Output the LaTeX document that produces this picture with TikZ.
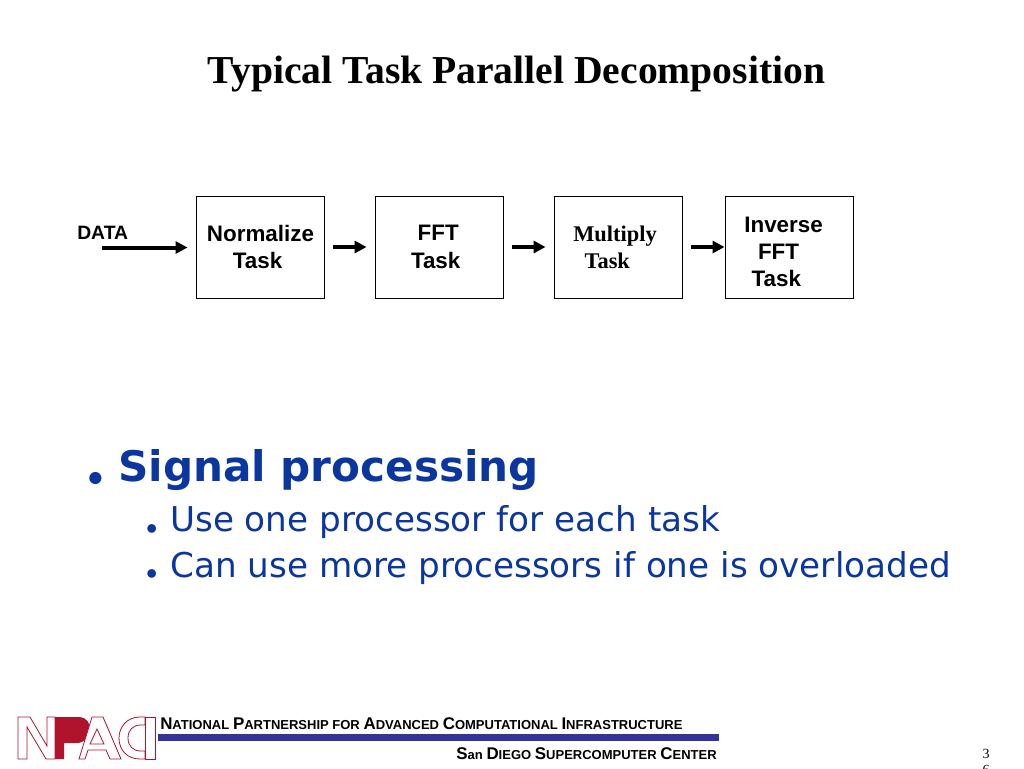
\documentclass[tikz,border=0pt]{standalone}
\usepackage{fontspec}
\setmainfont{Liberation Serif}
\setsansfont{Liberation Sans}
\newfontfamily\verdanafont{DejaVu Sans}
\usetikzlibrary{arrows.meta}
\definecolor{slideblue}{HTML}{0B36A0}
\definecolor{barblue}{HTML}{333399}
\definecolor{logored}{HTML}{B0142C}
\newcommand{\capbig}[1]{{\fontsize{12.7}{14}\selectfont #1}}
\newcommand{\capsmall}[1]{{\fontsize{9.75}{14}\selectfont #1}}
\tikzset{
  taskbox/.style={draw=black, line width=0.7pt, minimum width=96pt, minimum height=76.5pt, inner sep=0pt, text width=96pt, align=left, font=\sffamily\bfseries\fontsize{16.8}{20.5}\selectfont},
  flow/.style={line width=3pt, -{Triangle[length=9pt,width=9pt]}, shorten <=6.75pt, shorten >=6pt},
  every node/.append style={inner sep=0pt},
  logoline/.style={draw=logored, line width=0.6pt, fill=white},
  bigdot/.style={anchor=base, text=slideblue, text height=8pt, text depth=0pt, font=\rmfamily\bfseries\fontsize{56}{58}\selectfont},
  smalldot/.style={anchor=base, text=slideblue, text height=6pt, text depth=0pt, font=\rmfamily\bfseries\fontsize{40}{42}\selectfont}
}
\begin{document}
\begin{tikzpicture}[x=0.75pt,y=-0.75pt]
    \useasboundingbox (0,0) rectangle (1024,768);
    \node (title) [anchor=base, font=\bfseries\fontsize{29.7}{34}\selectfont] at (516.5,83) {Typical Task Parallel Decomposition};
    % task boxes
    \node (normalize) [taskbox] at (260,247) {\hspace*{8.2pt}Normalize\\\hspace*{27.7pt}Task};
    \node (fft) [taskbox] at (439,247) {\hspace*{32pt}FFT\\\hspace*{27pt}Task};
    \node (multiply) [taskbox, font=\rmfamily\bfseries\fontsize{16.8}{20.5}\selectfont] at (618,247) {\hspace*{14.5pt}Multiply\\\hspace*{23pt}Task};
    \node (inverse) [taskbox] at (789,247) {\rule{0pt}{19pt}\hspace*{14.5pt}Inverse\\\hspace*{24.75pt}FFT\\\hspace*{20pt}Task};
    \node (data) [anchor=base west, font=\sffamily\bfseries\fontsize{14.5}{16}\selectfont] at (77,239) {DATA};
    \coordinate (datastart) at (93,247.5);
    \draw [flow] (datastart) -- (normalize.west |- datastart);
    \draw [flow] (normalize.east) -- (fft.west);
    \draw [flow] (fft.east) -- (multiply.west);
    \draw [flow, shorten >=0pt] (multiply.east) -- (inverse.west);
    % bullets
    \node (dotA) [bigdot] at (96,483) {.};
    \node (signal) [anchor=base west, text=slideblue, font=\verdanafont\bfseries\fontsize{31.6}{36}\selectfont] at (118,481) {Signal processing};
    \node (dotB) [smalldot] at (152,532.5) {.};
    \node (useone) [anchor=base west, text=slideblue, font=\verdanafont\fontsize{25.65}{30}\selectfont] at (170,531) {Use one processor for each task};
    \node (dotC) [smalldot] at (152,577.5) {.};
    \node (canuse) [anchor=base west, text=slideblue, font=\verdanafont\fontsize{25.65}{30}\selectfont] at (170,577) {Can use more processors if one is overloaded};
    % footer
    \fill [barblue] (158,734) rectangle (719,741);
    \node (npaci) [anchor=base west, font=\sffamily\bfseries] at (160,729) {\capbig{N}\capsmall{ATIONAL} \capbig{P}\capsmall{ARTNERSHIP FOR} \capbig{A}\capsmall{DVANCED} \capbig{C}\capsmall{OMPUTATIONAL} \capbig{I}\capsmall{NFRASTRUCTURE}};
    \node (sdsc) [anchor=base east, font=\sffamily\bfseries] at (717,759) {\capbig{S}\capsmall{an} \capbig{D}\capsmall{IEGO} \capbig{S}\capsmall{UPERCOMPUTER} \capbig{C}\capsmall{ENTER}};
    \node (pageA) [anchor=base, font=\fontsize{10.5}{12}\selectfont] at (986,758) {3};
    \node (pageB) [anchor=base, font=\fontsize{10.5}{12}\selectfont] at (986,774) {6};
    % logo
    \draw [logoline] (18,717) -- (30,717) -- (47,746) -- (47,717) -- (55,717) -- (55,759) -- (46,759) -- (27,727) -- (27,759) -- (18,759) -- cycle;
    \draw [logoline] (145,717) -- (140,717) .. controls (127,717) and (119,727) .. (119,738) .. controls (119,750) and (127,759) .. (140,759) -- (145,759) -- (145,751) -- (141,751) .. controls (133,751) and (128,746) .. (128,738) .. controls (128,730) and (133,725) .. (141,725) -- (145,725) -- cycle;
    \draw [logoline] (145,717) rectangle (155,759);
    \fill [logored] (55,717) -- (78,717) .. controls (88,717) and (90,724) .. (90,730) .. controls (90,738) and (84,743) .. (76,743) -- (64,743) -- (64,759) -- (55,759) -- cycle;
    \draw [logoline] (79,759) -- (92,717) -- (103,717) -- (121,759) -- (110,759) -- (106,750) -- (88,750) -- (85,759) -- cycle;
    \draw [logoline] (97,729) -- (90,744) -- (104,744) -- cycle;
\end{tikzpicture}
\end{document}
